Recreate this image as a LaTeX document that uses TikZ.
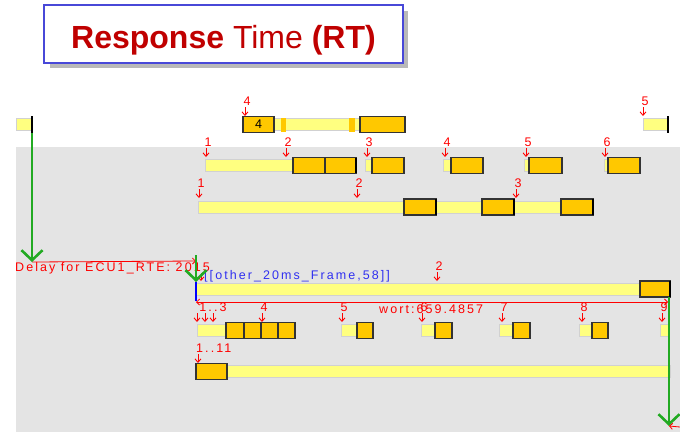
\documentclass[tikz,border=0pt]{standalone}
\usepackage{fontspec}
\setmainfont{Liberation Sans}
\newfontfamily\tracefont[LetterSpace=16.5]{Liberation Sans}
\usetikzlibrary{arrows.meta}
\definecolor{bggrey}{HTML}{E4E4E4}
\definecolor{runyel}{HTML}{FFFF80}
\definecolor{preorange}{HTML}{FFC800}
\definecolor{titlered}{HTML}{C00000}
\definecolor{frameblue}{HTML}{4848D8}
\definecolor{flowgreen}{HTML}{22AA22}
\definecolor{msgblue}{HTML}{3030F0}
\tikzset{run/.style={fill=runyel,draw=black!18,line width=.8pt},
busy/.style={fill=preorange,draw=black!80,line width=1.1pt},
endmark/.style={line width=2.2pt,black},
hit/.style={-{Straight Barb[length=3.5pt,width=6pt]},red,line width=.9pt},
lbl/.style={font=\tracefont\fontsize{12.5}{12.5}\selectfont,text=red,inner sep=0pt},
flow/.style={-{Straight Barb[length=10pt,width=21pt]},line width=2.6pt,flowgreen},
span/.style={red,line width=.8pt}}
\newcommand{\runbar}[3]{\draw[run] (#1,#3-6) rectangle (#2,#3+6);}
\newcommand{\busybox}[3]{\draw[busy] (#1,#3-8) rectangle (#2,#3+8);}
\newcommand{\hitmark}[3]{\draw[hit] (#1,#2-9) -- (#1,#2);
\node[lbl] (n#1-#2) at (#1+2,#2-15) {#3};}
\begin{document}
\begin{tikzpicture}[x=1pt,y=-1pt]
\useasboundingbox (0,0) rectangle (680,432);
% title
\fill[gray!55] (50,11) rectangle (408,68);
\draw[fill=white,draw=frameblue,line width=1.6pt] (44,5) rectangle (403,63);
\node[anchor=base,text=titlered,font=\fontsize{32}{32}\selectfont] (title) at (223.5,48)
{\bfseries Response\mdseries{} Time \bfseries(RT)};
\fill[bggrey] (16,147) rectangle (680,432);
% row 0
\runbar{16}{31}{124.5}
\draw[endmark] (32,116) -- (32,133);
\runbar{274}{360}{124.5}
\busybox{243}{274}{124.5}
\node[lbl,text=black] (four) at (258.5,124.5) {4};
\fill[preorange] (281,117.5) rectangle (286,131.5);
\fill[preorange] (349,117.5) rectangle (355,131.5);
\busybox{360}{405}{124.5}
\hitmark{245}{116}{4}
\runbar{643}{667}{124.5}
\draw[endmark] (668,116) -- (668,133);
\hitmark{643}{116}{5}
% row 1
\runbar{205}{293}{165.5}
\busybox{293}{325}{165.5}
\busybox{325}{356}{165.5}
\draw[endmark] (356,158) -- (356,173);
\runbar{365}{372}{165.5}\busybox{372}{404}{165.5}
\runbar{443}{451}{165.5}\busybox{451}{483}{165.5}
\runbar{524}{529}{165.5}\busybox{529}{562}{165.5}
\runbar{604}{608}{165.5}\busybox{608}{640}{165.5}
\hitmark{206}{157}{1}
\hitmark{286}{157}{2}
\hitmark{367}{157}{3}
\hitmark{445}{157}{4}
\hitmark{526}{157}{5}
\hitmark{605}{157}{6}
% row 2
\runbar{198}{561}{207}
\busybox{404}{436}{207}
\busybox{482}{514}{207}
\busybox{561}{593}{207}
\draw[endmark] (436,199) -- (436,215);
\draw[endmark] (514,199) -- (514,215);
\draw[endmark] (593,199) -- (593,215);
\hitmark{199}{198}{1}
\hitmark{357}{198}{2}
\hitmark{516}{198}{3}
% delay of ECU1
\coordinate (src) at (32,133);
\coordinate (ecu) at (32,262);
\coordinate (rte) at (196,261);
\draw[span,-{Straight Barb[length=3pt,width=6pt]}] (ecu) -- (rte);
\node[lbl,anchor=west] (delay) at (15,268) {Delay for ECU1\_RTE: 2015};
\draw[flow] (src) -- (ecu);
% row 3
\runbar{196}{640}{289}
\busybox{640}{670}{289}
\draw[endmark] (670,281) -- (670,297);
\node[lbl,anchor=west,text=msgblue] (frame) at (204,276) {[[other\_20ms\_Frame,58]]};
\draw[hit] (201,273) -- (201,281);
\hitmark{437}{281}{2}
\coordinate (send) at (196,255);
\coordinate (sent) at (196,282);
\coordinate (queued) at (196,301);
\draw[blue,line width=2.5pt] (sent) -- (queued);
\draw[flow] (send) -- (sent);
\coordinate (wl) at (196,302);
\coordinate (wr) at (668,302);
\draw[span,{Straight Barb[length=3pt,width=6pt]}-{Straight Barb[length=3pt,width=6pt]}] (wl) -- (wr);
\node[lbl,anchor=west] (wort) at (379,309) {wort:659.4857};
% row 4
\runbar{197}{226}{330.5}
\busybox{226}{244}{330.5}
\busybox{244}{261}{330.5}
\busybox{261}{278}{330.5}
\busybox{278}{295}{330.5}
\runbar{341}{357}{330.5}\busybox{357}{373}{330.5}
\runbar{421}{435}{330.5}\busybox{435}{452}{330.5}
\runbar{499}{513}{330.5}\busybox{513}{530}{330.5}
\runbar{579}{592}{330.5}\busybox{592}{608}{330.5}
\runbar{660}{668}{330.5}
\draw[hit] (197,313) -- (197,322);
\draw[hit] (205,313) -- (205,322);
\draw[hit] (213,313) -- (213,322);
\node[lbl] (first) at (213,307) {1..3};
\hitmark{262}{322}{4}
\hitmark{342}{322}{5}
\hitmark{422}{322}{6}
\hitmark{502}{322}{7}
\hitmark{582}{322}{8}
\hitmark{662}{322}{9}
% row 5
\runbar{227}{670}{371.5}
\busybox{196}{227}{371.5}
\draw[hit] (198,354) -- (198,363);
\node[lbl,anchor=west] (all) at (196,348) {1..11};
% response of RT
\coordinate (got) at (669,297);
\coordinate (done) at (669,426);
\draw[flow] (got) -- (done);
\coordinate (nx) at (680,427);
\draw[span,{Straight Barb[length=3pt,width=6pt]}-] (done) -- (nx);
\end{tikzpicture}
\end{document}
